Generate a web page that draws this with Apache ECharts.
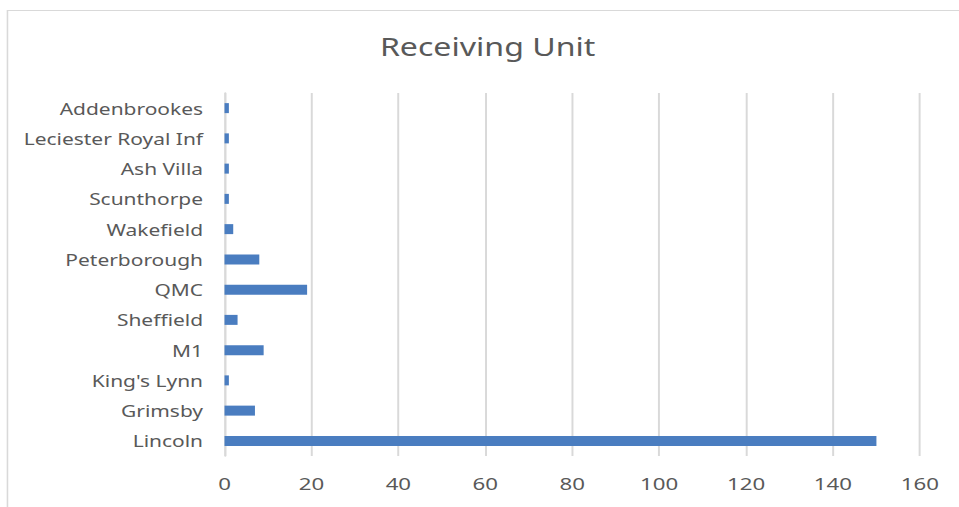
<!DOCTYPE html>
<html>
<head>
<meta charset="utf-8">
<script src="https://cdn.jsdelivr.net/npm/echarts@6/dist/echarts.min.js"></script>
<style>
html,body{margin:0;padding:0;background:#fff;overflow:hidden;}
#c{width:732px;height:507px;transform:scaleX(1.31);transform-origin:0 0;}
</style>
</head>
<body>
<div id="c"></div>
<script>
const categories = ["Lincoln", "Grimsby", "King's Lynn", "M1", "Sheffield", "QMC", "Peterborough", "Wakefield", "Scunthorpe", "Ash Villa", "Leciester Royal Inf", "Addenbrookes"];
const values = [150, 7, 1, 9, 3, 19, 8, 2, 1, 1, 1, 1];
const xTicks = { min: 0, max: 160, interval: 20 };

const chart = echarts.init(document.getElementById('c'), null, { renderer: 'svg' });
chart.setOption({
  animation: false,
  backgroundColor: '#fff',
  graphic: [{
    type: 'rect', left: 3.2, top: 8, silent: true,
    shape: { width: 1000, height: 600 },
    style: { fill: 'none', stroke: '#d9d9d9', lineWidth: 1.2 }
  }],
  title: {
    text: 'Receiving Unit', left: 285, top: 29, padding: 5,
    textStyle: { fontFamily: 'Noto Sans', fontSize: 24.5, fontWeight: 'normal', color: '#595959' }
  },
  grid: { left: 171.4, right: 29.8, top: 93, bottom: 51, containLabel: false },
  xAxis: {
    type: 'value', min: xTicks.min, max: xTicks.max, interval: xTicks.interval,
    axisLine: { show: false }, axisTick: { show: false },
    splitLine: { show: true, lineStyle: { color: '#d9d9d9', width: 1.5 } },
    axisLabel: { margin: 19, fontFamily: 'Noto Sans', fontSize: 17, color: '#595959' }
  },
  yAxis: {
    type: 'category', data: categories,
    axisLine: { show: true, lineStyle: { color: '#d9d9d9', width: 1.5 } },
    axisTick: { show: false },
    axisLabel: { margin: 16.4, fontFamily: 'Noto Sans', fontSize: 16, color: '#595959' }
  },
  series: [{
    type: 'bar', data: values, barWidth: 10,
    itemStyle: { color: '#4a7dc0' }
  }]
});
</script>
</body>
</html>
